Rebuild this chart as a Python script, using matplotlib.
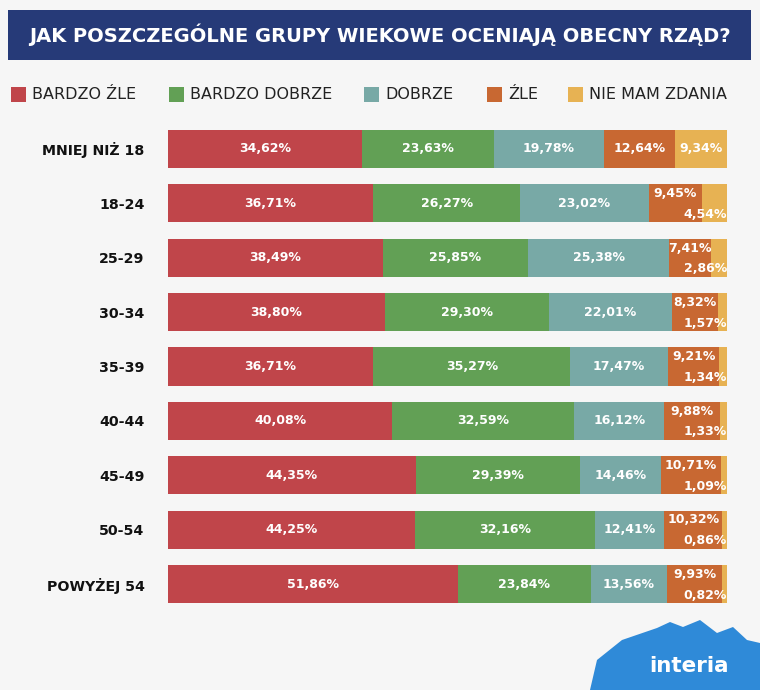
import numpy as np
import matplotlib.pyplot as plt
from matplotlib.patches import Rectangle, Polygon

# data
groups = ['MNIEJ NIŻ 18', '18-24', '25-29', '30-34', '35-39', '40-44', '45-49', '50-54', 'POWYŻEJ 54']
series = ['BARDZO ŹLE', 'BARDZO DOBRZE', 'DOBRZE', 'ŹLE', 'NIE MAM ZDANIA']
bardzo_zle = [34.62, 36.71, 38.49, 38.80, 36.71, 40.08, 44.35, 44.25, 51.86]
bardzo_dobrze = [23.63, 26.27, 25.85, 29.30, 35.27, 32.59, 29.39, 32.16, 23.84]
dobrze = [19.78, 23.02, 25.38, 22.01, 17.47, 16.12, 14.46, 12.41, 13.56]
zle = [12.64, 9.45, 7.41, 8.32, 9.21, 9.88, 10.71, 10.32, 9.93]
nie_mam_zdania = [9.34, 4.54, 2.86, 1.57, 1.34, 1.33, 1.09, 0.86, 0.82]

colors = ['#c0454a', '#62a055', '#78a9a6', '#c86832', '#e7b253']
navy = '#263a78'
W, H = 760, 690


def fx(px):
    return px / W


def fy(py):
    return 1 - py / H


def fmt(v):
    return f"{v:.2f}".replace('.', ',') + '%'


fig = plt.figure(figsize=(7.6, 6.9), dpi=100, facecolor='#f6f6f6')

# title band
fig.patches.append(Rectangle((fx(8), fy(60)), fx(743), 50 / H, transform=fig.transFigure,
                             facecolor=navy, edgecolor='none'))
fig.text(fx(380), fy(35), 'JAK POSZCZEGÓLNE GRUPY WIEKOWE OCENIAJĄ OBECNY RZĄD?',
         color='white', fontsize=14, fontweight='bold', ha='center', va='center')

# legend
leg_x = [11, 169, 364, 487, 568]
for name, c, x in zip(series, colors, leg_x):
    fig.patches.append(Rectangle((fx(x), fy(102)), 15 / W, 15 / H, transform=fig.transFigure,
                                 facecolor=c, edgecolor='none'))
    fig.text(fx(x + 21), fy(94.5), name, fontsize=11.5, color='#222222', ha='left', va='center')

# bars
ax = fig.add_axes([fx(168), fy(611.2), 559 / W, 489.4 / H])
ax.set_facecolor('none')
data = np.array([bardzo_zle, bardzo_dobrze, dobrze, zle, nie_mam_zdania])
y = np.arange(len(groups))
left = np.zeros(len(groups))
for i, vals in enumerate(data):
    ax.barh(y, vals, left=left, height=0.7, color=colors[i], edgecolor='none')
    for j, v in enumerate(vals):
        small = data[4, j] < 5
        if i == 3 and small:
            ax.annotate(fmt(v), (left[j] + v / 2, j), xytext=(0, 7), textcoords='offset points',
                        ha='center', va='center', color='white', fontsize=9, fontweight='bold')
        elif i == 4 and small:
            ax.annotate(fmt(v), (left[j] + v, j), xytext=(0, -8), textcoords='offset points',
                        ha='right', va='center', color='white', fontsize=9, fontweight='bold')
        else:
            ax.text(left[j] + v / 2, j, fmt(v), ha='center', va='center',
                    color='white', fontsize=9, fontweight='bold')
    left += vals

ax.set_xlim(0, left.max())
ax.set_ylim(len(groups) - 0.5, -0.5)
ax.set_yticks(y)
ax.set_yticklabels(groups, fontsize=10.2, fontweight='bold', color='#111111')
ax.tick_params(axis='y', length=0, pad=17)
ax.set_xticks([])
for s in ax.spines.values():
    s.set_visible(False)

# logo
pts = [(590, 690), (597, 660), (622, 640), (657, 628), (670, 622), (683, 627), (700, 620),
       (717, 633), (733, 627), (747, 640), (760, 643), (760, 690)]
fig.patches.append(Polygon([(fx(a), fy(b)) for a, b in pts], closed=True,
                           transform=fig.transFigure, facecolor='#2f8ad8', edgecolor='none'))
fig.text(fx(689), fy(666), 'interia', color='white', fontsize=15.5, fontweight='bold',
         ha='center', va='center')

fig.savefig('out.png', dpi=100, facecolor=fig.get_facecolor())
